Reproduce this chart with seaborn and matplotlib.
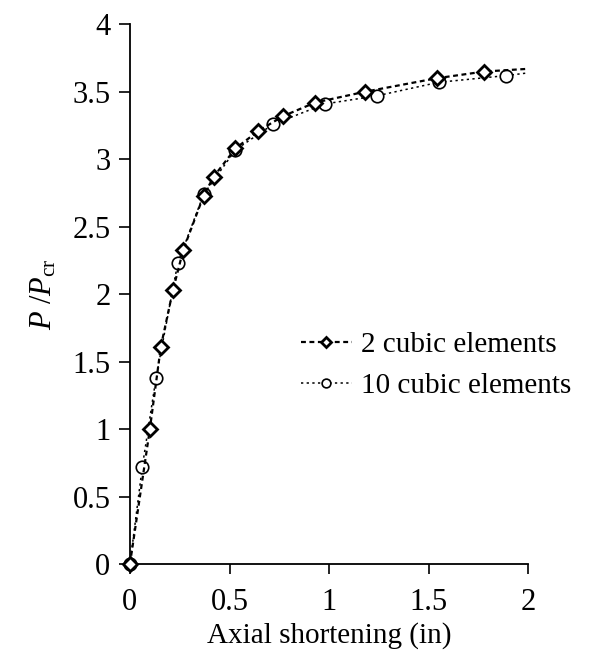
import pandas as pd
import numpy as np
import seaborn as sns
import matplotlib
matplotlib.use('Agg')
import matplotlib.pyplot as plt

# Data
two_x = [0, 0.10, 0.155, 0.216, 0.268, 0.37, 0.42, 0.53, 0.645, 0.77, 0.93, 1.18, 1.54, 1.78, 2.0]
two_y = [0, 1.00, 1.61, 2.03, 2.33, 2.73, 2.87, 3.08, 3.21, 3.32, 3.42, 3.50, 3.60, 3.65, 3.67]
ten_x = [0, 0.062, 0.131, 0.24, 0.37, 0.53, 0.72, 0.98, 1.24, 1.55, 1.89, 2.0]
ten_y = [0, 0.72, 1.38, 2.23, 2.74, 3.07, 3.26, 3.41, 3.47, 3.57, 3.62, 3.64]
labels = ['2 cubic elements', '10 cubic elements']
xticks = [0, 0.5, 1, 1.5, 2]
yticks = [0, 0.5, 1, 1.5, 2, 2.5, 3, 3.5, 4]

two = pd.DataFrame({'x': two_x, 'y': two_y})
ten = pd.DataFrame({'x': ten_x, 'y': ten_y})

sns.set_style('ticks', rc={'text.color': 'black', 'axes.labelcolor': 'black',
                           'xtick.color': 'black', 'ytick.color': 'black',
                           'axes.edgecolor': 'black'})
plt.rcParams['font.family'] = ['Liberation Serif', 'DejaVu Serif']
plt.rcParams['mathtext.fontset'] = 'custom'
plt.rcParams['mathtext.rm'] = 'Liberation Serif'
plt.rcParams['mathtext.it'] = 'Liberation Serif:italic'

fig = plt.figure(figsize=(6.1, 6.56), dpi=100)
ax = fig.add_axes([0.213, 0.140, 0.653, 0.823])

# markers only on real points, the line runs on to the axis end
sns.lineplot(data=two, x='x', y='y', ax=ax, sort=False, color='black',
             linestyle=(0, (2.2, 1.6)), linewidth=1.6, marker='D', markersize=7.5,
             markerfacecolor='white', markeredgecolor='black', markeredgewidth=2.0,
             markevery=list(range(len(two_x) - 1)), label=labels[0], zorder=3,
             clip_on=False)
sns.lineplot(data=ten, x='x', y='y', ax=ax, sort=False, color='black',
             linestyle=(0, (1.5, 2.2)), linewidth=1.1, marker='o', markersize=9,
             markerfacecolor='white', markeredgecolor='black', markeredgewidth=1.2,
             markevery=list(range(len(ten_x) - 1)), label=labels[1], zorder=2,
             clip_on=False)

ax.set_xlim(0, 2)
ax.set_ylim(0, 4)
ax.set_xticks(xticks)
ax.set_xticklabels(['0', '0.5', '1', '1.5', '2'])
ax.set_yticks(yticks)
ax.set_yticklabels(['0', '0.5', '1', '1.5', '2', '2.5', '3', '3.5', '4'])
ax.tick_params(axis='both', labelsize=22, width=1.2, color='black', labelcolor='black')
ax.tick_params(axis='y', length=8, pad=6)
ax.tick_params(axis='x', length=7, pad=10)
for side in ['top', 'right']:
    ax.spines[side].set_visible(False)
for side in ['left', 'bottom']:
    ax.spines[side].set_linewidth(1.3)
    ax.spines[side].set_color('black')
    ax.spines[side].set_zorder(1)

ax.set_xlabel('Axial shortening (in)', fontsize=21, labelpad=4, color='black')
ax.set_ylabel(r'$P\ /P_{\rm cr}$', fontsize=22, labelpad=10, color='black')

leg = ax.legend(loc='upper left', bbox_to_anchor=(0.40, 0.452), frameon=False,
                fontsize=21, handlelength=1.75, handletextpad=0.3, labelspacing=0.5,
                markerscale=0.7, borderaxespad=0, labelcolor='black')

plt.savefig('out.png', dpi=100)
